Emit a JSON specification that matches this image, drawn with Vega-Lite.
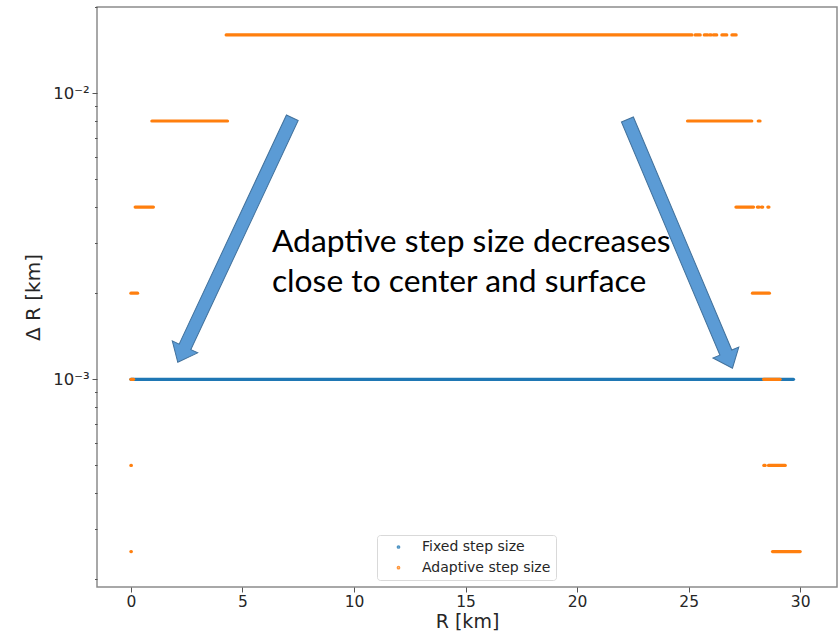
{
  "$schema": "https://vega.github.io/schema/vega-lite/v6.json",
  "width": 740,
  "height": 580,
  "autosize": {"type": "none"},
  "padding": {"left": 97, "top": 7, "right": 3, "bottom": 47},
  "background": "white",
  "config": {
    "view": {"stroke": "#8c8c8c", "strokeWidth": 1.5},
    "axis": {
      "domain": false,
      "grid": false,
      "tickColor": "#555555",
      "tickWidth": 1,
      "labelFont": "DejaVu Sans",
      "labelColor": "#262626",
      "titleFont": "DejaVu Sans",
      "titleFontWeight": "normal",
      "titleColor": "#262626",
      "labelOverlap": false
    }
  },
  "datasets": {
    "steps": [
      {"series": "Fixed step size", "dR": 0.001, "R_start": 0.0, "R_end": 29.7},
      {"series": "Adaptive step size", "dR": 0.016, "R_start": 4.27, "R_end": 25.15},
      {"series": "Adaptive step size", "dR": 0.016, "R_start": 25.29, "R_end": 25.52},
      {"series": "Adaptive step size", "dR": 0.016, "R_start": 25.70, "R_end": 25.85},
      {"series": "Adaptive step size", "dR": 0.016, "R_start": 25.94, "R_end": 26.01},
      {"series": "Adaptive step size", "dR": 0.016, "R_start": 26.11, "R_end": 26.26},
      {"series": "Adaptive step size", "dR": 0.016, "R_start": 26.49, "R_end": 26.71},
      {"series": "Adaptive step size", "dR": 0.016, "R_start": 26.94, "R_end": 27.13},
      {"series": "Adaptive step size", "dR": 0.008, "R_start": 0.94, "R_end": 4.33},
      {"series": "Adaptive step size", "dR": 0.008, "R_start": 24.95, "R_end": 27.83},
      {"series": "Adaptive step size", "dR": 0.008, "R_start": 28.12, "R_end": 28.2},
      {"series": "Adaptive step size", "dR": 0.004, "R_start": 0.19, "R_end": 1.01},
      {"series": "Adaptive step size", "dR": 0.004, "R_start": 27.12, "R_end": 27.91},
      {"series": "Adaptive step size", "dR": 0.004, "R_start": 28.08, "R_end": 28.16},
      {"series": "Adaptive step size", "dR": 0.004, "R_start": 28.26, "R_end": 28.32},
      {"series": "Adaptive step size", "dR": 0.004, "R_start": 28.55, "R_end": 28.6},
      {"series": "Adaptive step size", "dR": 0.002, "R_start": 0.0, "R_end": 0.3},
      {"series": "Adaptive step size", "dR": 0.002, "R_start": 27.86, "R_end": 28.62},
      {"series": "Adaptive step size", "dR": 0.001, "R_start": 0.0, "R_end": 0.12},
      {"series": "Adaptive step size", "dR": 0.001, "R_start": 28.36, "R_end": 29.1},
      {"series": "Adaptive step size", "dR": 0.0005, "R_start": 0.0, "R_end": 0.02},
      {"series": "Adaptive step size", "dR": 0.0005, "R_start": 28.37, "R_end": 28.43},
      {"series": "Adaptive step size", "dR": 0.0005, "R_start": 28.58, "R_end": 29.33},
      {"series": "Adaptive step size", "dR": 0.00025, "R_start": 0.0, "R_end": 0.02},
      {"series": "Adaptive step size", "dR": 0.00025, "R_start": 28.76, "R_end": 30.0}
    ],
    "notes": [
      {"R": 6.32, "dR": 0.00278, "label": "Adaptive step size decreases\nclose to center and surface"}
    ],
    "arrows": [
      {"R": 4.668, "dR": 0.003069, "angle": 25.1},
      {"R": 24.61, "dR": 0.002975, "angle": -22.9}
    ]
  },
  "layer": [
    {
      "data": {"name": "steps"},
      "mark": {"type": "rule", "strokeWidth": 3.2, "strokeCap": "round"},
      "encoding": {
        "x": {
          "field": "R_start",
          "type": "quantitative",
          "title": "R [km]",
          "scale": {"domain": [-1.52, 31.65], "nice": false, "zero": false},
          "axis": {
            "values": [0, 5, 10, 15, 20, 25, 30],
            "tickSize": 5,
            "labelFontSize": 15.5,
            "labelPadding": 2,
            "titleFontSize": 19,
            "titlePadding": 3
          }
        },
        "x2": {"field": "R_end"},
        "y": {
          "field": "dR",
          "type": "quantitative",
          "title": "Δ R [km]",
          "scale": {"type": "log", "domain": [0.0001879, 0.02003], "nice": false},
          "axis": {
            "values": [0.0002, 0.0003, 0.0004, 0.0005, 0.0006, 0.0007, 0.0008, 0.0009, 0.001, 0.002, 0.003, 0.004, 0.005, 0.006, 0.007, 0.008, 0.009, 0.01, 0.02],
            "labelExpr": "(datum.value > 0.0095 && datum.value < 0.0105) ? '10⁻²' : ((datum.value > 0.00095 && datum.value < 0.00105) ? '10⁻³' : '')",
            "tickSize": {"condition": {"test": "(datum.value > 0.0095 && datum.value < 0.0105) || (datum.value > 0.00095 && datum.value < 0.00105)", "value": 5}, "value": 2.5},
            "labelFontSize": 16.5,
            "labelPadding": 3,
            "titleFontSize": 20,
            "titlePadding": 9
          }
        },
        "color": {
          "field": "series",
          "type": "nominal",
          "scale": {"domain": ["Fixed step size", "Adaptive step size"], "range": ["#1f77b4", "#ff7f0e"]},
          "legend": {
            "title": null,
            "orient": "none",
            "legendX": 280,
            "legendY": 528,
            "symbolType": "circle",
            "symbolSize": 5,
            "symbolStrokeWidth": 1.5,
            "symbolOpacity": 0.8,
            "symbolOffset": 9.5,
            "labelOffset": 16.5,
            "labelFont": "DejaVu Sans",
            "labelFontSize": 14,
            "labelColor": "#262626",
            "padding": 5,
            "rowPadding": 6.7,
            "strokeColor": "#d9d9d9",
            "fillColor": "white",
            "cornerRadius": 3
          }
        }
      }
    },
    {
      "data": {"name": "notes"},
      "mark": {"type": "text", "font": "Lato", "fontSize": 31.8, "align": "left", "baseline": "alphabetic", "lineHeight": 39.4, "lineBreak": "\n", "color": "black"},
      "encoding": {
        "x": {"field": "R", "type": "quantitative"},
        "y": {"field": "dR", "type": "quantitative"},
        "text": {"field": "label", "type": "nominal"}
      }
    },
    {
      "data": {"name": "arrows"},
      "mark": {
        "type": "point",
        "shape": "M -0.048 -1 L 0.048 -1 L 0.048 0.874 L 0.104 0.874 L 0 1 L -0.104 0.874 L -0.048 0.874 Z",
        "size": 72900,
        "filled": true,
        "fill": "#5b9bd5",
        "stroke": "#41719c",
        "strokeWidth": 1,
        "opacity": 1
      },
      "encoding": {
        "x": {"field": "R", "type": "quantitative"},
        "y": {"field": "dR", "type": "quantitative"},
        "angle": {"field": "angle", "type": "quantitative", "scale": null}
      }
    }
  ]
}
